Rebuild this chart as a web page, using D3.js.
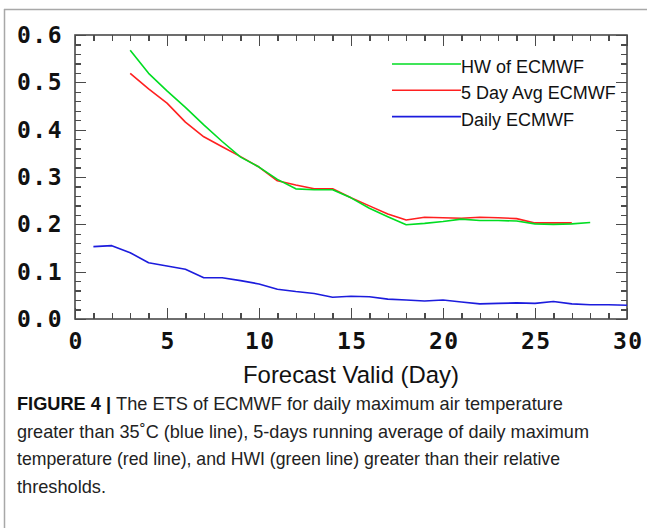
<!DOCTYPE html>
<html lang="en">
<head>
<meta charset="UTF-8">
<title>ETS of ECMWF</title>
<style>
    body { margin: 0; background: #fff; }
    svg { display: block; }
    .axis path { display: none; }
    .axis line { stroke: #4a4a4a; stroke-width: 1.3; shape-rendering: crispEdges; }
    .axis text {
        font-family: "DejaVu Sans Mono", monospace;
        font-weight: bold;
        font-size: 23px;
        letter-spacing: 1.5px;
        fill: #111;
    }
    .legend text, .title { font-family: "Liberation Sans", Arial, sans-serif; fill: #111; }
    .caption { font-family: "Liberation Sans Narrow", "Liberation Sans", Arial, sans-serif; font-size: 18.5px; fill: #222; }
</style>
</head>
<body>
<div id="chart"></div>
<script src="https://d3js.org/d3.v7.min.js"></script>
<script>
// forecast day for each series
var dailyDays = [1, 2, 3, 4, 5, 6, 7, 8, 9, 10, 11, 12, 13, 14, 15, 16, 17, 18, 19, 20, 21, 22, 23, 24, 25, 26, 27, 28, 29, 30];
var hwDays = [3, 4, 5, 6, 7, 8, 9, 10, 11, 12, 13, 14, 15, 16, 17, 18, 19, 20, 21, 22, 23, 24, 25, 26, 27, 28];
var avgDays = [3, 4, 5, 6, 7, 8, 9, 10, 11, 12, 13, 14, 15, 16, 17, 18, 19, 20, 21, 22, 23, 24, 25, 26, 27];

// ETS values
var hwValues = [0.568, 0.519, 0.482, 0.447, 0.410, 0.375, 0.342, 0.321, 0.295, 0.275, 0.273, 0.273, 0.256, 0.234,
    0.216, 0.199, 0.202, 0.206, 0.211, 0.208, 0.208, 0.207, 0.201, 0.200, 0.201, 0.204];
var avgValues = [0.519, 0.486, 0.456, 0.416, 0.385, 0.364, 0.343, 0.321, 0.292, 0.283, 0.275, 0.275, 0.256, 0.239,
    0.222, 0.209, 0.215, 0.214, 0.213, 0.215, 0.214, 0.212, 0.203, 0.203, 0.203];
var dailyValues = [0.153, 0.155, 0.140, 0.119, 0.112, 0.105, 0.087, 0.087, 0.081, 0.074, 0.063, 0.058, 0.054, 0.046,
    0.048, 0.047, 0.042, 0.040, 0.038, 0.040, 0.036, 0.032, 0.033, 0.034, 0.033, 0.037, 0.032, 0.030, 0.030, 0.029];

var xTicks = [0, 5, 10, 15, 20, 25, 30];
var xMinor = [1, 2, 3, 4, 6, 7, 8, 9, 11, 12, 13, 14, 16, 17, 18, 19, 21, 22, 23, 24, 26, 27, 28, 29];
var yTicks = [0, 0.1, 0.2, 0.3, 0.4, 0.5, 0.6];
var yMinor = [0.02, 0.04, 0.06, 0.08, 0.12, 0.14, 0.16, 0.18, 0.22, 0.24, 0.26, 0.28, 0.32, 0.34, 0.36, 0.38,
    0.42, 0.44, 0.46, 0.48, 0.52, 0.54, 0.56, 0.58];

var seriesNames = ['HW of ECMWF', '5 Day Avg ECMWF', 'Daily ECMWF'];
var seriesColors = ['#00dd22', '#ff2020', '#1c1cdd'];
var xTitle = 'Forecast Valid (Day)';

var width = 647, height = 528;
var padding = { left: 75, right: 20, top: 35, bottom: 209 };
var plotW = width - padding.left - padding.right;
var plotH = height - padding.top - padding.bottom;

var svg = d3.select('#chart').append('svg').attr('width', width).attr('height', height);

// page border (top + left only, like the journal crop)
svg.append('line').attr('x1', 4).attr('y1', 9.5).attr('x2', width).attr('y2', 9.5)
    .attr('stroke', '#a8a8a8').attr('stroke-width', 1.5);
svg.append('line').attr('x1', 4.5).attr('y1', 9).attr('x2', 4.5).attr('y2', height)
    .attr('stroke', '#a8a8a8').attr('stroke-width', 1.5);

var xScale = d3.scaleLinear().domain([0, 30]).range([0, plotW]);
var yScale = d3.scaleLinear().domain([0, 0.6]).range([plotH, 0]);

var g = svg.append('g').attr('transform', 'translate(' + padding.left + ',' + padding.top + ')');

// major ticks with labels
g.append('g').attr('class', 'axis')
    .attr('transform', 'translate(0,' + plotH + ')')
    .call(d3.axisBottom(xScale).tickValues(xTicks).tickSize(-11).tickPadding(14).tickFormat(d3.format('d')))
    .selectAll('text').attr('dx', 0.75);
g.append('g').attr('class', 'axis')
    .call(d3.axisLeft(yScale).tickValues(yTicks).tickSize(-11).tickPadding(12).tickFormat(d3.format('.1f')));
g.append('g').attr('class', 'axis')
    .call(d3.axisTop(xScale).tickValues(xTicks).tickSize(-11).tickFormat(''));
g.append('g').attr('class', 'axis')
    .attr('transform', 'translate(' + plotW + ',0)')
    .call(d3.axisRight(yScale).tickValues(yTicks).tickSize(-11).tickFormat(''));

// minor ticks
g.append('g').attr('class', 'axis')
    .attr('transform', 'translate(0,' + plotH + ')')
    .call(d3.axisBottom(xScale).tickValues(xMinor).tickSize(-6).tickFormat(''));
g.append('g').attr('class', 'axis')
    .call(d3.axisTop(xScale).tickValues(xMinor).tickSize(-6).tickFormat(''));
g.append('g').attr('class', 'axis')
    .call(d3.axisLeft(yScale).tickValues(yMinor).tickSize(-6).tickFormat(''));
g.append('g').attr('class', 'axis')
    .attr('transform', 'translate(' + plotW + ',0)')
    .call(d3.axisRight(yScale).tickValues(yMinor).tickSize(-6).tickFormat(''));

// frame
g.append('rect').attr('width', plotW).attr('height', plotH)
    .attr('fill', 'none').attr('stroke', '#4a4a4a').attr('stroke-width', 1.6);

// series lines
var series = [
    { days: hwDays, values: hwValues },
    { days: avgDays, values: avgValues },
    { days: dailyDays, values: dailyValues }
];
var line = d3.line()
    .x(function(d) { return xScale(d[0]); })
    .y(function(d) { return yScale(d[1]); });

// draw blue first, then red, then green on top
[2, 1, 0].forEach(function(i) {
    var s = series[i];
    g.append('path')
        .attr('d', line(d3.zip(s.days, s.values)))
        .attr('fill', 'none')
        .attr('stroke', seriesColors[i])
        .attr('stroke-width', 1.6)
        .attr('stroke-linejoin', 'round');
});

// legend
var legend = svg.append('g').attr('class', 'legend');
seriesNames.forEach(function(name, i) {
    var ly = 64 + i * 26.3;
    legend.append('line').attr('x1', 392).attr('x2', 461).attr('y1', ly).attr('y2', ly)
        .attr('stroke', seriesColors[i]).attr('stroke-width', 1.6);
    legend.append('text').attr('x', 461).attr('y', ly + 9).attr('font-size', 18).text(name);
});

// x axis title
svg.append('text').attr('class', 'title')
    .attr('x', padding.left + plotW / 2).attr('y', 383)
    .attr('text-anchor', 'middle').attr('font-size', 24.5)
    .attr('textLength', 216).attr('lengthAdjust', 'spacingAndGlyphs')
    .text(xTitle);

// caption
var capLines = [
    { bold: 'FIGURE 4 | ', text: 'The ETS of ECMWF for daily maximum air temperature', w: 546 },
    { bold: '', text: 'greater than 35\u02DAC (blue line), 5-days running average of daily maximum', w: 572 },
    { bold: '', text: 'temperature (red line), and HWI (green line) greater than their relative', w: 543 },
    { bold: '', text: 'thresholds.', w: 89 }
];
capLines.forEach(function(c, i) {
    var t = svg.append('text').attr('class', 'caption')
        .attr('x', 17).attr('y', 410 + i * 27.7)
        .attr('textLength', c.w).attr('lengthAdjust', 'spacingAndGlyphs');
    if (c.bold) t.append('tspan').attr('font-weight', 'bold').attr('fill', '#111').text(c.bold);
    t.append('tspan').text(c.text);
});
</script>
</body>
</html>
